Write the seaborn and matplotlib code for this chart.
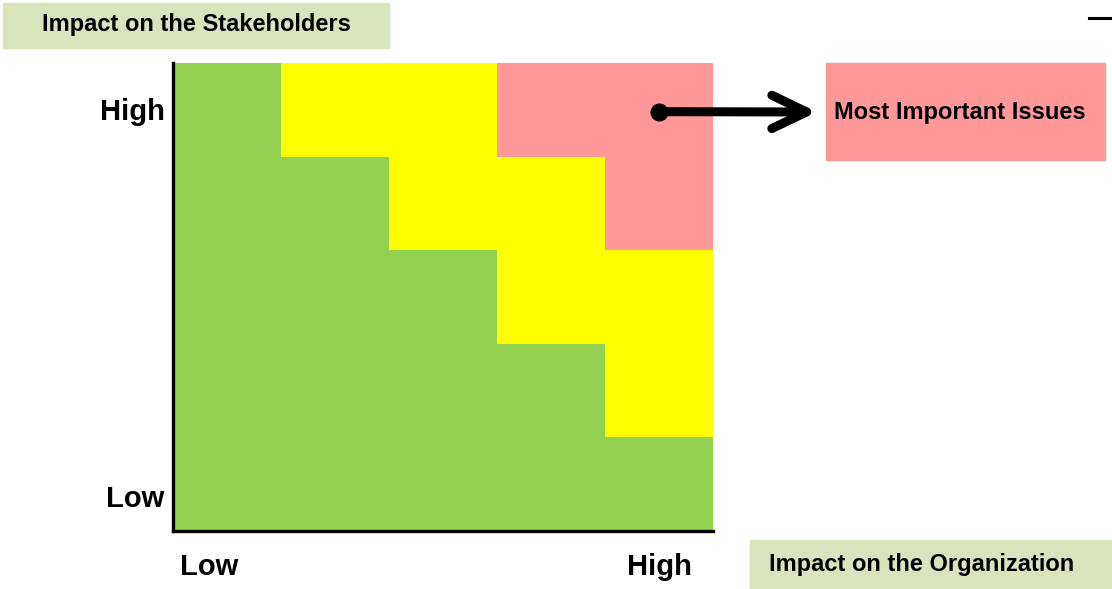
import numpy as np
import matplotlib
matplotlib.use("Agg")
import matplotlib.pyplot as plt
import seaborn as sns
from matplotlib.colors import ListedColormap
from matplotlib.patches import Rectangle
from matplotlib.lines import Line2D

# ─────────────────────────────────────────────
# DATA  (0 = low / green, 1 = medium / yellow, 2 = high / red)
# rows: stakeholder impact, top = high ; cols: organization impact, left = low
# ─────────────────────────────────────────────
row_high    = [0, 1, 1, 2, 2]
row_upper   = [0, 0, 1, 1, 2]
row_mid     = [0, 0, 0, 1, 1]
row_lower   = [0, 0, 0, 0, 1]
row_low     = [0, 0, 0, 0, 0]

level_colors = ["#92D050", "#FFFF00", "#FF9999"]
y_tick_labels = ["High", "Low"]
x_tick_labels = ["Low", "High"]

y_title  = "Impact on the Stakeholders"
x_title  = "Impact on the Organization"
callout  = "Most Important Issues"

grid = np.array([row_high, row_upper, row_mid, row_lower, row_low])

# ─────────────────────────────────────────────
# Figure
# ─────────────────────────────────────────────
W, H = 1112, 589
plt.rcParams["font.family"] = ["Liberation Sans", "DejaVu Sans"]

fig = plt.figure(figsize=(W / 100, H / 100), dpi=100)

def px(x0, y0, x1, y1):
    # pixel box (top-left origin) -> figure fraction rect
    return [x0 / W, 1 - y1 / H, (x1 - x0) / W, (y1 - y0) / H]

ax = fig.add_axes(px(173, 63, 713, 531))

sns.heatmap(grid, cmap=ListedColormap(level_colors), vmin=0, vmax=2,
            cbar=False, linewidths=0, ax=ax)

for side in ["left", "bottom"]:
    ax.spines[side].set_visible(True)
    ax.spines[side].set_linewidth(2.4)
    ax.spines[side].set_color("black")

ax.set_xticks([0.33, 4.5], x_tick_labels, rotation=0)
ax.set_yticks([0.52, 4.66], y_tick_labels, rotation=0)
ax.tick_params(length=0, labelsize=21, labelcolor="black")
ax.tick_params(axis="x", pad=16)
ax.tick_params(axis="y", pad=6)
for lbl in ax.get_xticklabels() + ax.get_yticklabels():
    lbl.set_fontweight("bold")

# ─────────────────────────────────────────────
# Title boxes
# ─────────────────────────────────────────────
def box(x0, y0, x1, y1, color):
    r = px(x0, y0, x1, y1)
    fig.patches.append(Rectangle(r[:2], r[2], r[3], transform=fig.transFigure,
                                 color=color, zorder=0))

box(3, 3, 389, 48, "#D8E4BC")
fig.text(196 / W, 1 - 25 / H, y_title, ha="center", va="center",
         fontsize=17, fontweight="bold")

box(750, 540, 1112, 589, "#D8E4BC")
fig.text(769 / W, 1 - 565 / H, x_title, ha="left", va="center",
         fontsize=17, fontweight="bold")

box(826, 63, 1105, 160, "#FF9999")
fig.text(834 / W, 1 - 112 / H, callout, ha="left", va="center",
         fontsize=17, fontweight="bold")

# ─────────────────────────────────────────────
# Arrow from the high/high corner to the callout
# ─────────────────────────────────────────────
ax.plot([4.5], [0.52], marker="o", markersize=12, color="black", clip_on=False)
ax.annotate("", xy=(817 / W, 1 - 112 / H), xycoords="figure fraction",
            xytext=(4.52, 0.52), textcoords="data", annotation_clip=False,
            arrowprops=dict(arrowstyle="->,head_length=2.5,head_width=1.2",
                            lw=6.5, color="black", capstyle="round",
                            joinstyle="round", shrinkA=0, shrinkB=0))

# small dash at top right
fig.add_artist(Line2D([1089 / W, 1112 / W], [1 - 18 / H, 1 - 18 / H],
                      transform=fig.transFigure, color="black", lw=2.2))

plt.savefig("out.png", dpi=100)
plt.close()
